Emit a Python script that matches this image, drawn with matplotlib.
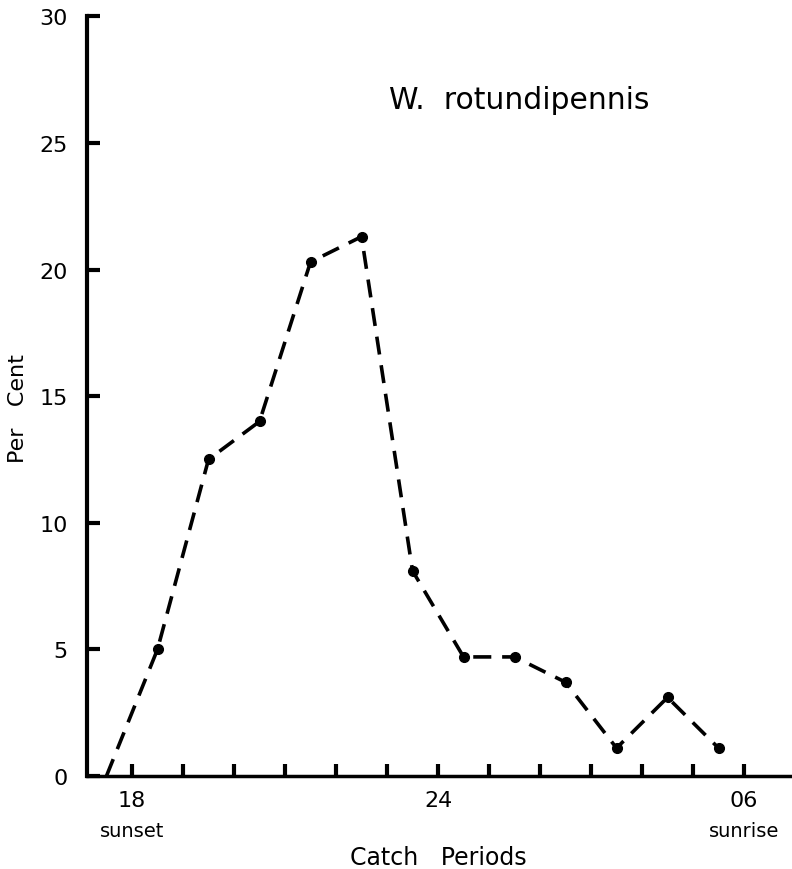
import matplotlib
matplotlib.use("Agg")
import matplotlib.pyplot as plt

# Data: catch periods (hours, continuing past midnight as 24+) and percent
hours = [17.5, 18.5, 19.5, 20.5, 21.5, 22.5, 23.5, 24.5, 25.5, 26.5, 27.5, 28.5, 29.5]
percent = [0.0, 5.0, 12.5, 14.0, 20.3, 21.3, 8.1, 4.7, 4.7, 3.7, 1.1, 3.1, 1.1]
marked = [False] + [True] * 12

tick_hours = list(range(18, 31))
label_hours = [18, 24, 30]
label_texts = ["18", "24", "06"]
y_ticks = [0, 5, 10, 15, 20, 25, 30]

fig = plt.figure(figsize=(7.92, 8.70), dpi=100)
ax = fig.add_axes([0.110, 0.107, 0.890, 0.873])

ax.plot(hours, percent, color="black", lw=2.6, linestyle=(0, (5, 3)),
        dash_capstyle="butt")
mx = [h for h, m in zip(hours, marked) if m]
my = [p for p, m in zip(percent, marked) if m]
ax.plot(mx, my, "o", color="black", ms=7)

ax.set_xlim(17.12, 30.94)
ax.set_ylim(0, 30)

for s in ["top", "right"]:
    ax.spines[s].set_visible(False)
ax.spines["left"].set_linewidth(3)
ax.spines["bottom"].set_linewidth(2.5)

ax.set_yticks(y_ticks)
ax.set_yticklabels([str(v) for v in y_ticks])
ax.tick_params(axis="y", direction="in", length=9, width=3, labelsize=16, pad=14)

ax.set_xticks(tick_hours)
ax.set_xticklabels([label_texts[label_hours.index(h)] if h in label_hours else "" for h in tick_hours])
ax.tick_params(axis="x", direction="in", length=9, width=3, labelsize=16, pad=10)

ax.text(18, -2.17, "sunset", ha="center", va="center", fontsize=14)
ax.text(30, -2.17, "sunrise", ha="center", va="center", fontsize=14)

fig.text(438 / 792, 1 - 858 / 870, "Catch   Periods", ha="center", va="center", fontsize=17)
fig.text(18 / 792, 1 - 409 / 870, "Per   Cent", ha="center", va="center",
         rotation=90, fontsize=16)

ax.text(25.6, 26.7, "W.  rotundipennis", ha="center", va="center", fontsize=21.5)

fig.savefig("out.png", dpi=100)
